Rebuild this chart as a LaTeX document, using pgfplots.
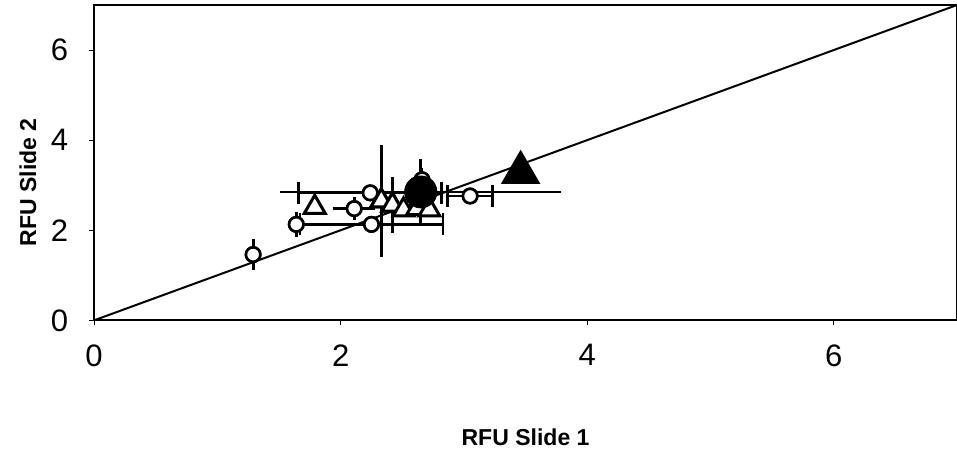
\documentclass[border=0pt]{standalone}
\usepackage{pgfplots}
\pgfplotsset{compat=1.18}
\usepackage{fontspec}
\setmainfont{Liberation Sans}
\pgfplotsset{
  ocirc/.style={only marks, mark=*, mark size=3.6bp, mark options={fill=white, draw=black, line width=1.3bp}},
  otri/.style={only marks, mark=triangle*, mark size=6bp, mark options={fill=white, draw=black, line width=1.5bp}},
}
\begin{document}
\begin{tikzpicture}
\begin{axis}[
  width=431bp, height=157.5bp, scale only axis,
  xmin=0, xmax=7, ymin=0, ymax=7,
  xtick={0,2,4,6}, ytick={0,2,4,6},
  xtick pos=bottom, ytick pos=left,
  axis line style={black, line width=1bp},
  tick align=outside, major tick length=2.5bp,
  tick style={black, line width=0.4bp},
  /pgf/number format/assume math mode=true,
  ticklabel style={font=\fontsize{15.5bp}{18bp}\selectfont},
  xticklabel style={yshift=-6bp},
  yticklabel style={xshift=-7bp},
  xlabel={\textbf{RFU Slide 1}},
  ylabel={\textbf{RFU Slide 2}},
  label style={font=\fontsize{11.5bp}{14bp}\selectfont},
  xlabel style={at={(axis description cs:0.5,0)}, anchor=center, yshift=-58.5bp},
  ylabel style={at={(axis description cs:-0.0766,0.438)}, anchor=center, rotate=0},
  clip=false,
]
\addplot[black, line width=1bp] coordinates {(0,0) (7,7)};

% --- error bars ---
% open circles, y error only
\addplot[ocirc,
  error bars/.cd, y dir=both, y explicit,
  error bar style={line width=1.4bp}, error mark options={mark size=3bp, line width=1.4bp}]
  coordinates {(1.29,1.46) +- (0,0.22) (1.64,2.13) +- (0,0.15) (2.66,3.12) +- (0,0.12)};
% open circle, both errors
\addplot[ocirc,
  error bars/.cd, x dir=both, x explicit, y dir=both, y explicit,
  error bar style={line width=1.4bp}, error mark options={mark size=3bp, line width=1.4bp}]
  coordinates {(2.11,2.48) +- (0.12,0.12)};
% open circles, x error only
\addplot[ocirc,
  error bars/.cd, x dir=both, x explicit,
  error bar style={line width=1.4bp}, error mark options={rotate=90, mark size=5.5bp, line width=1.4bp}]
  coordinates {(2.25,2.13) +- (0.58,0) (2.24,2.83) +- (0.58,0) (3.05,2.76) +- (0.18,0)};
% open triangles, y error
\addplot[otri,
  error bars/.cd, y dir=both, y explicit,
  error bar style={line width=1.4bp}, error mark options={mark size=5.5bp, line width=1.4bp}]
  coordinates {(2.33,2.65) +- (0,0.99) (2.42,2.56) +- (0,0.37)};
% filled circle
\addplot[only marks, mark=*, mark size=8bp, mark options={fill=black},
  error bars/.cd, x dir=both, x explicit, y dir=both, y explicit,
  error bar style={line width=1.4bp}, error mark options={mark size=5.5bp, line width=1.4bp}]
  coordinates {(2.65,2.85) +- (1.05,0.48)};

% --- markers on top ---
\addplot[ocirc] coordinates {(1.29,1.46) (1.64,2.13) (2.11,2.48) (2.25,2.13) (2.24,2.83) (3.05,2.76) (2.66,3.12)};
\addplot[otri] coordinates {(1.79,2.51) (2.33,2.65) (2.42,2.56) (2.51,2.45) (2.62,2.48) (2.72,2.45)};
\addplot[only marks, mark=*, mark size=8bp, mark options={fill=black}]
  coordinates {(2.65,2.85)};
\addplot[only marks, mark=triangle*, mark size=11bp, mark options={fill=black}]
  coordinates {(3.46,3.28)};
\end{axis}
\pgfresetboundingbox
\path[use as bounding box] ([shift={(-47bp,-67bp)}]current axis.south west) rectangle ([shift={(0bp,2.5bp)}]current axis.north east);
\end{tikzpicture}
\end{document}
